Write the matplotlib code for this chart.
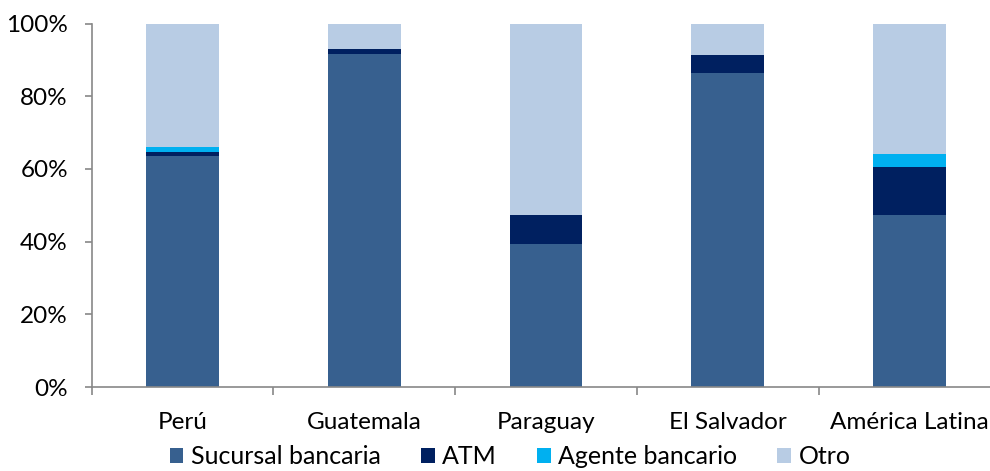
import matplotlib.pyplot as plt
from matplotlib.ticker import FixedLocator, PercentFormatter

# Canal utilizado por país (% de respuestas)
paises = ["Perú", "Guatemala", "Paraguay", "El Salvador", "América Latina"]
sucursal = [63.5, 91.7, 39.3, 86.3, 47.2]
atm = [1.1, 1.2, 8.0, 5.1, 13.2]
agente = [1.4, 0.0, 0.0, 0.0, 3.7]
otro = [100 - s - a - g for s, a, g in zip(sucursal, atm, agente)]

series = [
    ("Sucursal bancaria", sucursal, "#37608f"),
    ("ATM", atm, "#002060"),
    ("Agente bancario", agente, "#00b0f0"),
    ("Otro", otro, "#b8cce4"),
]

plt.rcParams["font.family"] = ["Lato", "DejaVu Sans"]
plt.rcParams["font.size"] = 17.5

fig = plt.figure(figsize=(9.9, 4.71), dpi=100)
# plot area runs past the right edge of the figure
ax = fig.add_axes([91.5 / 990, 84 / 471, 909 / 990, 363.5 / 471])

x = list(range(len(paises)))
base = [0.0] * len(paises)
for nombre, vals, col in series:
    ax.bar(x, vals, width=0.4, bottom=base, color=col, label=nombre, linewidth=0)
    base = [b + v for b, v in zip(base, vals)]

ax.set_xlim(-0.5, len(paises) - 0.5)
ax.set_ylim(0, 100)
ax.yaxis.set_major_locator(FixedLocator([0, 20, 40, 60, 80, 100]))
ax.yaxis.set_major_formatter(PercentFormatter(decimals=0))

ax.set_xticks(x)
ax.set_xticklabels(paises)
ax.set_xticks([i - 0.5 for i in range(len(paises) + 1)], minor=True)
ax.tick_params(axis="x", which="major", length=0, pad=18)
ax.tick_params(axis="x", which="minor", length=6, color="#888888", width=1.2)
ax.tick_params(axis="y", length=5, color="#888888", width=1.2, pad=12)

for side in ["top", "right"]:
    ax.spines[side].set_visible(False)
for side in ["left", "bottom"]:
    ax.spines[side].set_color("#888888")
    ax.spines[side].set_linewidth(1.2)

fig.legend(loc="center", bbox_to_anchor=(510 / 990, 1 - 457 / 471),
           ncol=4, frameon=False, fontsize=18, handlelength=0.55, handleheight=0.55,
           handletextpad=0.3, columnspacing=1.6, borderaxespad=0, borderpad=0)

fig.savefig("out.png", dpi=100)
